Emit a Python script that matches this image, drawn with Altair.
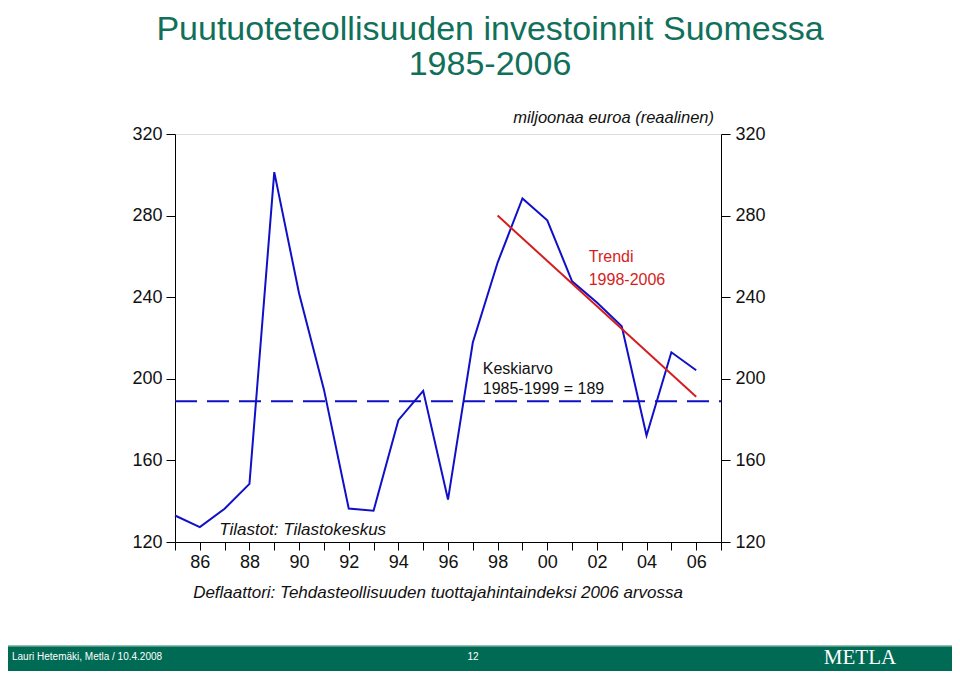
import altair as alt
import pandas as pd

# ---- data ----
years = list(range(1985, 2007))
investments = [133.0, 127.3, 136.3, 148.5, 301.3, 241.8, 194.8, 136.4, 135.3, 179.7,
               194.1, 140.8, 217.8, 257.0, 288.4, 277.7, 247.8, 237.4, 225.8, 172.2,
               213.0, 204.2]
mean_value = 189
mean_span = [1985, 2007]
trend_years = [1998, 2006]
trend_values = [280.0, 191.2]
y_ticks = [120, 160, 200, 240, 280, 320]
x_ticks = list(range(1985, 2008))

FONT = "Liberation Sans"
BLUE = "#1010C8"
RED = "#D41E1E"
GREEN = "#006B54"
TITLE_GREEN = "#11705A"

df = pd.DataFrame({"year": years, "value": investments})
mean_df = pd.DataFrame({"x0": [mean_span[0]], "x1": [mean_span[1]], "m": [mean_value]})
trend_df = pd.DataFrame({"year": trend_years, "value": trend_values})

xscale = alt.Scale(domain=[1985, 2007], nice=False, zero=False)
yscale = alt.Scale(domain=[120, 320], nice=False, zero=False)

xaxis = alt.Axis(values=x_ticks, title=None, grid=False, tickSize=8, labelPadding=3,
                 labelFontSize=18, labelFont=FONT, labelColor="#111", labelFlush=False,
                 domainColor="black", tickColor="black",
                 labelExpr="(datum.value % 2 == 0 && datum.value >= 1986 && datum.value <= 2006) ? slice(toString(datum.value), 2) : ''")
yaxis_left = alt.Axis(orient="left", values=y_ticks, title=None, grid=False, tickSize=9,
                      labelPadding=4, labelFontSize=18, labelFont=FONT, labelColor="#111",
                      domainColor="black", tickColor="black", labelFlush=False)
yaxis_right = alt.Axis(orient="right", values=y_ticks, title=None, grid=False, tickSize=9,
                       labelPadding=5, labelFontSize=18, labelFont=FONT, labelColor="#111",
                       domainColor="black", tickColor="black", labelFlush=False)

line = alt.Chart(df).mark_line(color=BLUE, strokeWidth=2).encode(
    x=alt.X("year:Q", scale=xscale, axis=xaxis),
    y=alt.Y("value:Q", scale=yscale, axis=yaxis_left),
)

mean_rule = alt.Chart(mean_df).mark_rule(color=BLUE, strokeWidth=2, strokeDash=[22, 10]).encode(
    x=alt.X("x0:Q", scale=xscale, axis=xaxis),
    x2="x1:Q",
    y=alt.Y("m:Q", scale=yscale, axis=yaxis_right),
)

trend = alt.Chart(trend_df).mark_line(color=RED, strokeWidth=2).encode(
    x=alt.X("year:Q", scale=xscale, axis=xaxis),
    y=alt.Y("value:Q", scale=yscale, axis=None),
)

# annotations in data coordinates
ann_labels = ["miljoonaa euroa (reaalinen)", "Trendi", "1998-2006", "Keskiarvo",
              "1985-1999 = 189", "Tilastot: Tilastokeskus",
              "Deflaattori: Tehdasteollisuuden tuottajahintaindeksi 2006 arvossa"]
ann_x = [2006.72, 2001.67, 2001.67, 1997.4, 1997.4, 1986.78, 1995.6]
ann_y = [327.8, 259.5, 248.2, 204.6, 194.8, 126.1, 95.0]
ann_align = ["right", "left", "left", "left", "left", "left", "center"]
ann_color = ["#111", RED, RED, "#111", "#111", "#111", "#111"]
ann_style = ["italic", "normal", "normal", "normal", "normal", "italic", "italic"]
ann_size = [16.5, 16, 16, 16, 16, 17, 17]

ann_layers = []
for lab, ax, ay, al, col, st, sz in zip(ann_labels, ann_x, ann_y, ann_align, ann_color, ann_style, ann_size):
    ann_layers.append(
        alt.Chart(pd.DataFrame({"t": [lab], "ax": [ax], "ay": [ay]})).mark_text(
            align=al, baseline="middle", font=FONT, fontSize=sz, fontStyle=st, color=col
        ).encode(
            x=alt.X("ax:Q", scale=xscale, axis=xaxis),
            y=alt.Y("ay:Q", scale=yscale, axis=None),
            text="t:N",
        )
    )

# title (page decoration)
title1 = alt.Chart(pd.DataFrame({"t": ["Puutuoteteollisuuden investoinnit Suomessa"]})).mark_text(
    align="center", baseline="alphabetic", font=FONT, fontSize=34, color=TITLE_GREEN
).encode(x=alt.value(315), y=alt.value(-94), text="t:N")
title2 = alt.Chart(pd.DataFrame({"t": ["1985-2006"]})).mark_text(
    align="center", baseline="alphabetic", font=FONT, fontSize=34, color=TITLE_GREEN
).encode(x=alt.value(315), y=alt.value(-59), text="t:N")

# footer band
footer = alt.Chart(pd.DataFrame({"a": [0]})).mark_rect(color=GREEN).encode(
    x=alt.value(-167), x2=alt.value(777), y=alt.value(512), y2=alt.value(545)
)
footer_line = alt.Chart(pd.DataFrame({"a": [0]})).mark_rule(color="#6FA898", strokeWidth=1.5).encode(
    x=alt.value(-167), x2=alt.value(777), y=alt.value(512)
)
foot_left = alt.Chart(pd.DataFrame({"t": ["Lauri Hetemäki, Metla  / 10.4.2008"]})).mark_text(
    align="left", baseline="middle", font=FONT, fontSize=10, color="white"
).encode(x=alt.value(-163), y=alt.value(523), text="t:N")
foot_mid = alt.Chart(pd.DataFrame({"t": ["12"]})).mark_text(
    align="center", baseline="middle", font=FONT, fontSize=10, color="white"
).encode(x=alt.value(298), y=alt.value(523), text="t:N")
foot_logo = alt.Chart(pd.DataFrame({"t": ["METLA"]})).mark_text(
    align="center", baseline="middle", font="Liberation Serif", fontSize=21, color="white"
).encode(x=alt.value(685), y=alt.value(524), text="t:N")

chart = alt.layer(
    footer, footer_line, foot_left, foot_mid, foot_logo, title1, title2,
    mean_rule, line, trend, *ann_layers
).resolve_axis(y="independent").properties(
    width=546, height=408,
    autosize=alt.AutoSizeParams(type="none"),
    padding={"left": 167, "top": 126, "right": 231, "bottom": 129},
).configure_view(stroke="black", strokeWidth=1).configure(background="white")

chart.save("out.html", embed_options={"renderer": "svg", "actions": False})
